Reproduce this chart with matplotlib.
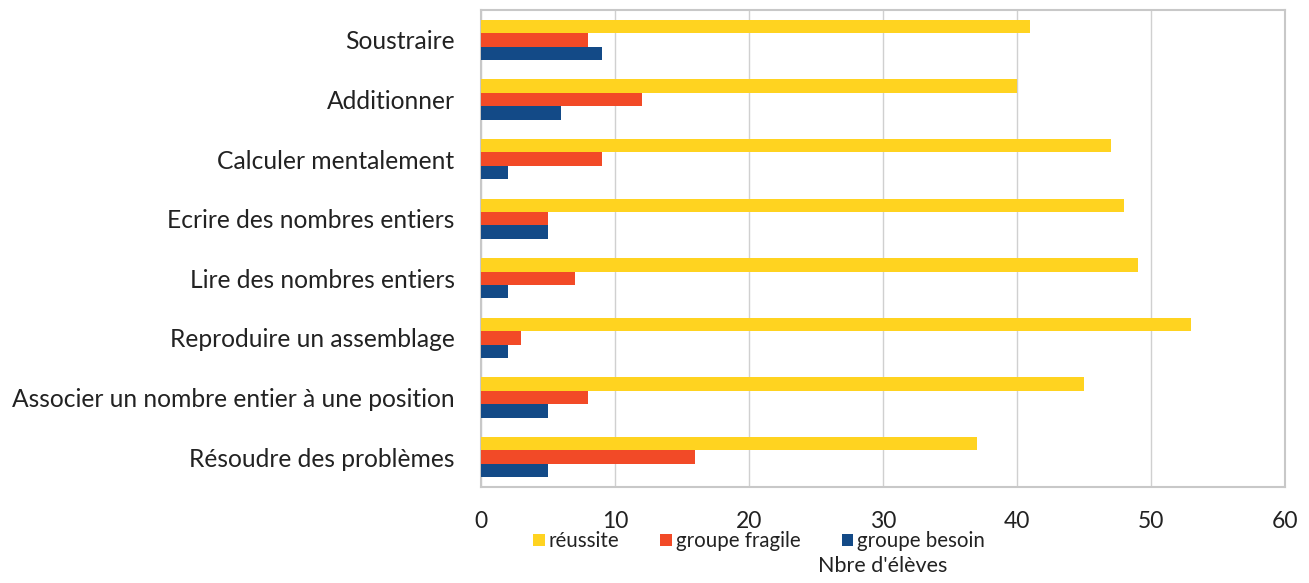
import matplotlib
matplotlib.use("Agg")
import matplotlib.pyplot as plt
import numpy as np

categories = ["Soustraire", "Additionner", "Calculer mentalement", "Ecrire des nombres entiers",
              "Lire des nombres entiers", "Reproduire un assemblage",
              "Associer un nombre entier à une position", "Résoudre des problèmes"]
reussite = [41, 40, 47, 48, 49, 53, 45, 37]
fragile = [8, 12, 9, 5, 7, 3, 8, 16]
besoin = [9, 6, 2, 5, 2, 2, 5, 5]
series_names = ["réussite", "groupe fragile", "groupe besoin"]
colors = ["#FFD320", "#F24A27", "#134A87"]

plt.rcParams['font.family'] = ['Lato', 'DejaVu Sans']

fig = plt.figure(figsize=(13.09, 5.83), dpi=100)
ax = fig.add_axes([481/1309, 1 - 487/583, 804/1309, 477/583])

n = len(categories)
y = np.arange(n)
h = 0.225
for i, (vals, name, c) in enumerate(zip([reussite, fragile, besoin], series_names, colors)):
    ax.barh(y + (i - 1) * h, vals, height=h, color=c, label=name, zorder=3)

ax.set_ylim(n - 0.5, -0.5)
ax.set_xlim(0, 60)
ax.set_xticks(range(0, 61, 10))
ax.set_yticks(y)
ax.set_yticklabels(categories, fontsize=17.7)
ax.tick_params(axis='x', labelsize=16.5, length=0, pad=17, colors='#222222')
ax.tick_params(axis='y', length=0, pad=19, colors='#222222')
ax.grid(axis='x', color='#D0D0D0', linewidth=1, zorder=0)
for s in ax.spines.values():
    s.set_color('#C8C8C8')
    s.set_linewidth(1.5)

ax.text(883/1309, 1 - 566/583, "Nbre d'élèves", transform=fig.transFigure,
        ha='center', va='center', fontsize=15.5, color='#222222')
leg = fig.legend(loc='center', bbox_to_anchor=(759/1309, 1 - 541/583), ncol=3, frameon=False,
                 fontsize=14.8, handlelength=0.55, handleheight=0.55, handletextpad=0.2,
                 columnspacing=2.0, borderpad=0, borderaxespad=0)
for t in leg.get_texts():
    t.set_color('#222222')

fig.savefig("out.png", dpi=100)
